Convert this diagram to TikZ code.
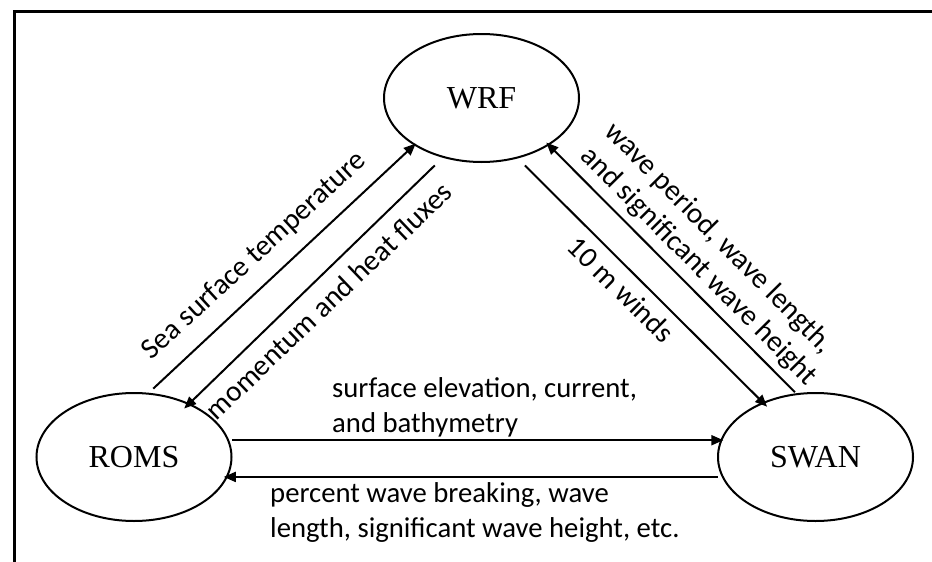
\documentclass[tikz,border=0pt]{standalone}
\usepackage{fontspec}
\setmainfont{Liberation Serif}
\newfontfamily\lblfont{Carlito}
\usetikzlibrary{arrows.meta,shapes.geometric}
\begin{document}
\begin{tikzpicture}[x=1pt,y=-1pt,
  model/.style={ellipse, draw, line width=2pt, minimum width=195pt, minimum height=128pt, inner sep=0pt, font=\fontsize{32}{38}\selectfont},
  arr/.style={line width=2pt, -{Triangle[length=12pt,width=10pt]}},
  lbl/.style={font=\lblfont\fontsize{28.7}{35}\selectfont, inner sep=0pt, align=left},
  dlbl/.style={font=\lblfont\fontsize{29.3}{34}\selectfont, inner sep=0pt, align=left}]
\useasboundingbox (0,0) rectangle (932,562);
\draw[line width=3pt] (14,562) -- (14,11) -- (932,11);
\node[model] (wrf) at (481.5,98) {WRF};
\node[model] (roms) at (134,457) {ROMS};
\node[model] (swan) at (815.5,457) {SWAN};
\draw[arr, shorten <=6pt, shorten >=-2.5pt] (roms.77) -- (wrf.215);
\draw[arr, shorten <=11pt, shorten >=-7.5pt] (wrf.237) -- (roms.44);
\draw[arr, shorten <=10pt, shorten >=-6.4pt] (wrf.301) -- (swan.134.8);
\draw[arr, shorten <=1.5pt, shorten >=-3.9pt] (swan.107.5) -- (wrf.325.6);
\draw[arr, shorten <=3pt, shorten >=-3pt] (roms.10) -- (swan.170);
\draw[arr, shorten <=4pt, shorten >=-4pt] (swan.192) -- (roms.348);
\node[dlbl, rotate=42.5, anchor=base] (tsst) at (259.4,261.8) {Sea surface temperature};
\node[dlbl, rotate=43.7, anchor=base] (tmom) at (335.4,307.9) {momentum and heat fluxes};
\node[dlbl, rotate=-44.6, anchor=base] (twind) at (614.4,296.6) {10 m winds};
\node[dlbl, rotate=-45.3] (twave) at (710.5,254.5) {wave period, wave length,\\and significant wave height};
\node[lbl, anchor=base west] (telev) at (332,432) {surface elevation, current,\\and bathymetry};
\node[lbl, anchor=base west] (tbreak) at (270,537) {percent wave breaking, wave\\length, significant wave height, etc.};
\end{tikzpicture}
\end{document}
